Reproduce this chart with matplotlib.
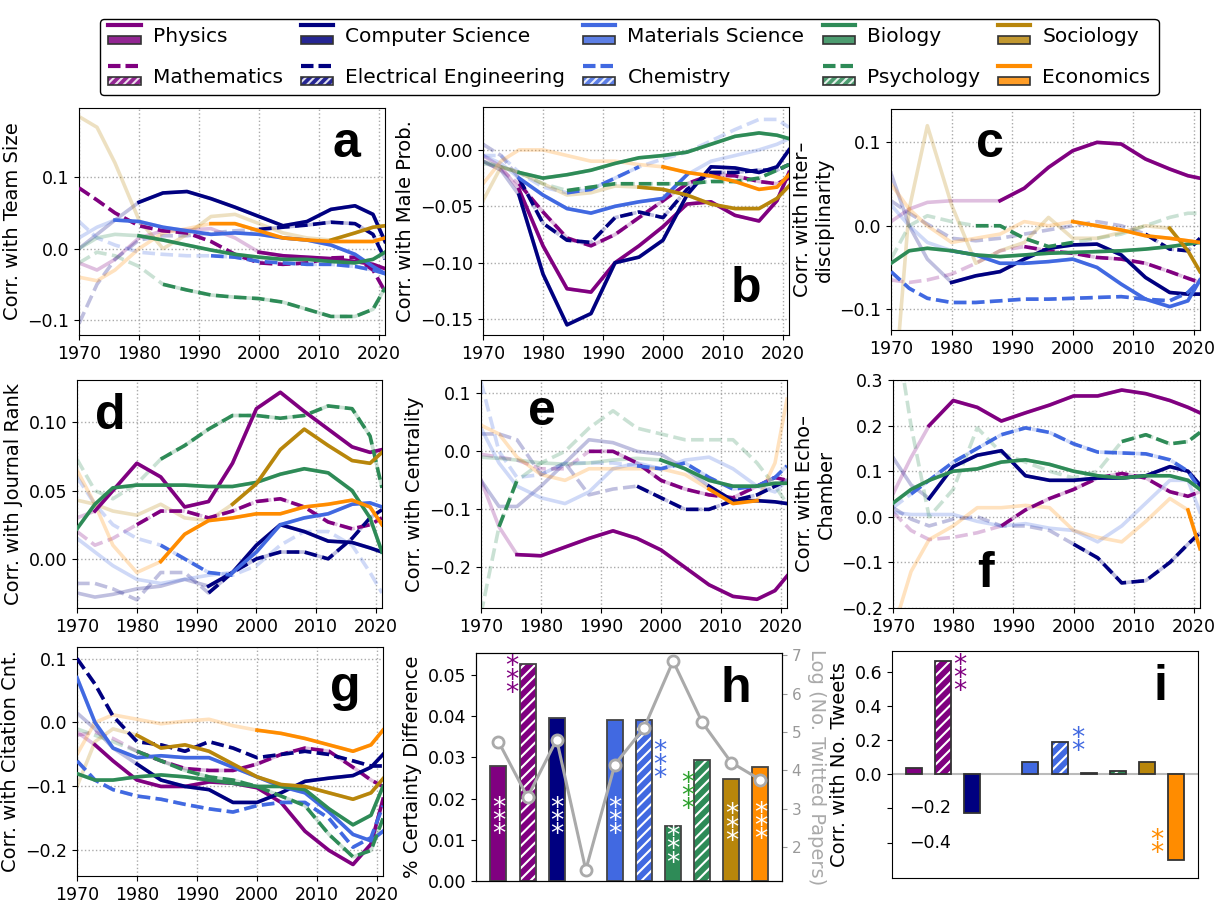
import numpy as np
import matplotlib
matplotlib.use("Agg")
import matplotlib.pyplot as plt
from matplotlib.lines import Line2D
from matplotlib.patches import Rectangle
from matplotlib.legend_handler import HandlerBase
from matplotlib.transforms import blended_transform_factory

plt.rcParams['font.family'] = ['DejaVu Sans']
plt.rcParams['hatch.linewidth'] = 1.5

fields = ['Physics', 'Mathematics', 'Computer Science', 'Electrical Engineering',
          'Materials Science', 'Chemistry', 'Biology', 'Psychology', 'Sociology', 'Economics']
colors = ['purple', 'purple', 'navy', 'navy', 'royalblue', 'royalblue',
          'seagreen', 'seagreen', 'darkgoldenrod', 'darkorange']
dashed = [False, True, False, True, False, True, False, True, False, False]

years = [1970, 1973, 1976, 1980, 1984, 1988, 1992, 1996, 2000, 2004, 2008, 2012, 2016, 2019, 2021]

# a: team size
team_size = [
    [-0.02, -0.03, -0.015, 0.015, 0.025, 0.026, 0.028, 0.015, -0.005, -0.01, -0.012, -0.014, -0.018, -0.022, -0.028],
    [0.085, 0.068, 0.05, 0.032, 0.025, 0.022, 0.01, -0.008, -0.02, -0.022, -0.02, -0.013, -0.012, -0.03, -0.06],
    [0.0, 0.02, 0.04, 0.065, 0.078, 0.08, 0.07, 0.058, 0.045, 0.032, 0.038, 0.055, 0.06, 0.048, 0.01],
    [-0.105, -0.05, -0.015, 0.012, 0.018, 0.018, 0.022, 0.025, 0.027, 0.03, 0.033, 0.037, 0.035, 0.02, -0.015],
    [0.015, 0.03, 0.04, 0.038, 0.03, 0.025, 0.02, 0.022, 0.02, 0.015, 0.012, 0.005, -0.008, -0.025, -0.035],
    [0.038, 0.015, 0.005, -0.005, -0.008, -0.01, -0.01, -0.012, -0.018, -0.02, -0.022, -0.022, -0.025, -0.03, -0.035],
    [0.0, 0.015, 0.02, 0.018, 0.012, 0.005, -0.002, -0.008, -0.012, -0.015, -0.015, -0.018, -0.02, -0.015, -0.005],
    [-0.02, -0.005, -0.01, -0.025, -0.05, -0.058, -0.065, -0.068, -0.07, -0.075, -0.085, -0.095, -0.095, -0.085, -0.055],
    [0.185, 0.17, 0.12, 0.04, 0.0, 0.02, 0.045, 0.048, 0.035, 0.022, 0.015, 0.012, 0.022, 0.03, 0.032],
    [-0.04, -0.045, -0.03, 0.0, 0.022, 0.028, 0.035, 0.035, 0.025, 0.015, 0.012, 0.01, 0.01, 0.01, 0.015],
]
team_size_solid = [(2000, 2021), (1970, 2021), (1980, 2021), (2000, 2021), (1976, 2021),
                   (1992, 2021), (1980, 2021), (1984, 2021), (2012, 2021), (1992, 2021)]

# b: male probability
male_prob = [
    [-0.005, -0.015, -0.035, -0.085, -0.123, -0.126, -0.1, -0.085, -0.068, -0.048, -0.046, -0.058, -0.063, -0.045, -0.02],
    [-0.01, -0.018, -0.03, -0.055, -0.078, -0.085, -0.075, -0.06, -0.045, -0.03, -0.022, -0.023, -0.028, -0.03, -0.025],
    [-0.01, -0.018, -0.04, -0.11, -0.155, -0.145, -0.1, -0.095, -0.08, -0.04, -0.015, -0.016, -0.02, -0.015, 0.0],
    [0.005, -0.005, -0.025, -0.065, -0.08, -0.082, -0.06, -0.055, -0.06, -0.035, -0.02, -0.02, -0.018, -0.018, -0.013],
    [-0.005, -0.012, -0.025, -0.04, -0.052, -0.056, -0.05, -0.046, -0.043, -0.022, -0.01, -0.005, 0.0, 0.005, 0.01],
    [-0.005, -0.005, -0.02, -0.033, -0.038, -0.035, -0.025, -0.015, -0.008, -0.002, 0.008, 0.018, 0.027, 0.027, 0.02],
    [-0.01, -0.015, -0.02, -0.025, -0.022, -0.018, -0.012, -0.007, -0.005, -0.002, 0.005, 0.012, 0.015, 0.013, 0.01],
    [-0.012, -0.015, -0.02, -0.03, -0.036, -0.033, -0.03, -0.03, -0.03, -0.03, -0.028, -0.028, -0.025, -0.018, -0.013],
    [-0.045, -0.015, -0.02, -0.03, -0.04, -0.038, -0.032, -0.033, -0.035, -0.04, -0.048, -0.052, -0.052, -0.043, -0.032],
    [-0.03, -0.01, 0.0, 0.0, -0.005, -0.01, -0.01, -0.013, -0.015, -0.02, -0.023, -0.028, -0.035, -0.033, -0.022],
]
male_prob_solid = [(1976, 2021), (1976, 2021), (1976, 2021), (1976, 2021), (1976, 2004),
                   (1984, 1996), (1976, 2021), (1984, 2021), (1996, 2021), (2000, 2021)]

# c: interdisciplinarity
interdisc = [
    [0.005, 0.02, 0.028, 0.03, 0.03, 0.03, 0.045, 0.07, 0.09, 0.1, 0.098, 0.08, 0.068, 0.06, 0.057],
    [-0.065, -0.068, -0.065, -0.058, -0.045, -0.03, -0.025, -0.03, -0.033, -0.038, -0.04, -0.045, -0.055, -0.063, -0.068],
    [0.063, 0.0, -0.04, -0.068, -0.06, -0.055, -0.04, -0.027, -0.023, -0.022, -0.035, -0.062, -0.08, -0.082, -0.082],
    [0.03, 0.015, 0.002, -0.015, -0.018, -0.015, -0.01, -0.005, 0.0, 0.005, 0.0, -0.01, -0.028, -0.03, -0.015],
    [0.025, 0.0, -0.02, -0.03, -0.035, -0.045, -0.045, -0.043, -0.04, -0.05, -0.07, -0.088, -0.097, -0.09, -0.065],
    [-0.055, -0.075, -0.087, -0.092, -0.092, -0.09, -0.088, -0.088, -0.087, -0.086, -0.085, -0.088, -0.09, -0.08, -0.065],
    [-0.045, -0.03, -0.027, -0.03, -0.035, -0.037, -0.035, -0.033, -0.032, -0.031, -0.03, -0.028, -0.025, -0.022, -0.02],
    [-0.04, 0.0, 0.012, 0.005, 0.0, 0.0, -0.015, -0.025, -0.02, -0.015, -0.01, 0.0, 0.01, 0.015, 0.015],
    [-0.25, 0.02, 0.12, 0.025, -0.045, -0.03, -0.02, 0.01, -0.015, -0.015, -0.008, 0.0, -0.003, -0.03, -0.055],
    [0.05, 0.02, 0.0, -0.02, -0.015, -0.01, 0.005, 0.0, 0.005, 0.0, -0.005, -0.012, -0.015, -0.018, -0.02],
]
interdisc_solid = [(1988, 2021), (1990, 2021), (1980, 2021), (2012, 2021), (1980, 2021),
                   (1970, 2021), (1970, 2021), (1984, 2000), (2016, 2021), (2000, 2021)]

# d: journal rank
journal_rank = [
    [0.03, 0.035, 0.05, 0.07, 0.06, 0.038, 0.042, 0.07, 0.11, 0.122, 0.108, 0.095, 0.082, 0.078, 0.08],
    [0.02, 0.01, 0.015, 0.025, 0.035, 0.035, 0.03, 0.035, 0.042, 0.044, 0.038, 0.027, 0.022, 0.025, 0.03],
    [-0.025, -0.028, -0.026, -0.022, -0.02, -0.015, -0.02, -0.01, 0.01, 0.025, 0.02, 0.013, 0.012, 0.008, 0.005],
    [-0.018, -0.018, -0.022, -0.03, -0.01, -0.01, -0.025, -0.01, 0.0, 0.005, 0.005, 0.0, 0.015, 0.03, 0.036],
    [0.015, 0.005, -0.005, -0.015, -0.018, -0.015, -0.012, -0.01, 0.005, 0.025, 0.03, 0.033, 0.04, 0.041, 0.038],
    [0.06, 0.04, 0.025, 0.015, 0.01, 0.0, -0.01, -0.012, -0.005, 0.01, 0.02, 0.02, 0.01, -0.01, -0.025],
    [0.022, 0.04, 0.052, 0.054, 0.054, 0.054, 0.053, 0.053, 0.056, 0.062, 0.066, 0.063, 0.05, 0.03, 0.005],
    [0.073, 0.05, 0.044, 0.055, 0.073, 0.083, 0.095, 0.105, 0.105, 0.103, 0.105, 0.112, 0.11, 0.09, 0.052],
    [0.043, 0.04, 0.035, 0.032, 0.04, 0.03, 0.028, 0.04, 0.055, 0.08, 0.095, 0.083, 0.072, 0.07, 0.078],
    [0.065, 0.04, 0.01, -0.01, -0.002, 0.018, 0.028, 0.03, 0.033, 0.033, 0.038, 0.04, 0.043, 0.038, 0.025],
]
journal_rank_solid = [(1973, 2021), (1980, 2021), (1992, 2021), (1992, 2021), (1996, 2021),
                      (1984, 1996), (1970, 2021), (1984, 2021), (1996, 2021), (1984, 2021)]

# e: centrality
centrality = [
    [-0.05, -0.13, -0.178, -0.18, -0.165, -0.15, -0.137, -0.15, -0.17, -0.2, -0.23, -0.25, -0.255, -0.24, -0.215],
    [-0.005, -0.01, -0.015, -0.03, -0.03, 0.0, 0.0, -0.02, -0.05, -0.065, -0.075, -0.08, -0.06, -0.045, -0.05],
    [-0.05, -0.095, -0.095, -0.06, -0.02, 0.02, 0.015, 0.0, -0.005, -0.03, -0.06, -0.085, -0.085, -0.087, -0.09],
    [0.03, 0.03, 0.02, -0.04, -0.02, -0.075, -0.065, -0.06, -0.08, -0.1, -0.1, -0.085, -0.075, -0.06, -0.05],
    [0.04, -0.02, -0.06, -0.08, -0.09, -0.07, -0.03, -0.02, -0.03, -0.015, -0.01, -0.03, -0.06, -0.07, -0.05],
    [0.12, 0.0, -0.045, -0.04, -0.02, -0.02, -0.02, -0.025, -0.03, -0.02, -0.045, -0.065, -0.06, -0.045, -0.025],
    [-0.01, -0.012, -0.015, -0.02, -0.022, -0.02, -0.015, -0.012, -0.015, -0.03, -0.05, -0.06, -0.06, -0.055, -0.055],
    [-0.28, -0.13, -0.05, -0.02, 0.0, 0.04, 0.07, 0.04, 0.03, 0.02, 0.02, 0.02, -0.02, -0.06, -0.09],
    None,
    [0.045, 0.03, -0.01, -0.04, -0.05, -0.03, -0.03, -0.03, -0.03, -0.04, -0.065, -0.09, -0.085, -0.02, 0.09],
]
centrality_solid = [(1976, 2021), (1988, 2021), (2008, 2021), (1996, 2021), (2030, 2030),
                    (1996, 2021), (2000, 2021), (1973, 1976), (2030, 2030), (2008, 2016)]

# f: echo chamber
echo_chamber = [
    [0.05, 0.13, 0.2, 0.255, 0.24, 0.21, 0.228, 0.245, 0.265, 0.265, 0.278, 0.27, 0.255, 0.24, 0.228],
    [0.01, -0.03, -0.05, -0.045, -0.035, -0.02, 0.015, 0.04, 0.06, 0.085, 0.095, 0.085, 0.055, 0.045, 0.055],
    [0.13, 0.07, 0.04, 0.11, 0.135, 0.145, 0.09, 0.08, 0.08, 0.085, 0.085, 0.09, 0.11, 0.1, 0.07],
    [0.02, -0.005, -0.02, -0.005, 0.0, -0.02, -0.02, -0.03, -0.06, -0.09, -0.145, -0.14, -0.1, -0.06, -0.035],
    [0.01, 0.005, 0.005, 0.005, -0.01, -0.02, -0.015, -0.025, -0.03, -0.055, -0.02, 0.03, 0.08, 0.08, 0.01],
    [0.02, 0.05, 0.08, 0.12, 0.15, 0.18, 0.195, 0.185, 0.16, 0.142, 0.14, 0.138, 0.125, 0.1, 0.06],
    [0.03, 0.06, 0.08, 0.1, 0.105, 0.12, 0.125, 0.115, 0.1, 0.09, 0.085, 0.09, 0.09, 0.08, 0.06],
    [0.45, 0.2, 0.0, 0.06, 0.195, 0.14, 0.12, 0.1, 0.085, 0.1, 0.165, 0.18, 0.16, 0.165, 0.185],
    None,
    [-0.25, -0.12, -0.05, -0.02, 0.02, 0.02, 0.025, 0.02, -0.03, -0.045, -0.055, -0.01, 0.04, 0.015, -0.07],
]
echo_chamber_solid = [(1976, 2021), (1988, 2021), (1976, 2021), (2000, 2021), (2030, 2030),
                      (1973, 2021), (1970, 2021), (2008, 2021), (2030, 2030), (2019, 2021)]

# g: citation count
citation_cnt = [
    [-0.015, -0.035, -0.06, -0.09, -0.1, -0.1, -0.093, -0.095, -0.102, -0.125, -0.17, -0.2, -0.222, -0.19, -0.12],
    [-0.02, -0.015, -0.025, -0.045, -0.06, -0.072, -0.075, -0.075, -0.065, -0.05, -0.04, -0.045, -0.07, -0.09, -0.1],
    [0.015, -0.01, -0.04, -0.065, -0.09, -0.1, -0.105, -0.125, -0.125, -0.11, -0.092, -0.087, -0.083, -0.07, -0.05],
    [0.1, 0.06, 0.01, -0.03, -0.035, -0.045, -0.03, -0.04, -0.055, -0.05, -0.045, -0.05, -0.06, -0.068, -0.068],
    [0.07, 0.0, -0.04, -0.055, -0.052, -0.055, -0.055, -0.07, -0.085, -0.1, -0.11, -0.14, -0.175, -0.185, -0.17],
    [-0.06, -0.09, -0.105, -0.115, -0.12, -0.128, -0.135, -0.14, -0.13, -0.125, -0.125, -0.15, -0.195, -0.18, -0.13],
    [-0.08, -0.09, -0.09, -0.085, -0.082, -0.085, -0.09, -0.095, -0.1, -0.1, -0.105, -0.135, -0.16, -0.145, -0.1],
    [-0.01, -0.02, -0.03, -0.045, -0.06, -0.075, -0.085, -0.09, -0.1, -0.115, -0.13, -0.175, -0.21, -0.2, -0.15],
    [-0.1, -0.03, -0.01, -0.02, -0.04, -0.035, -0.045, -0.065, -0.085, -0.097, -0.1, -0.11, -0.12, -0.11, -0.088],
    [-0.05, 0.0, 0.012, 0.005, -0.002, 0.002, 0.005, -0.005, -0.012, -0.017, -0.025, -0.035, -0.045, -0.035, -0.012],
]
citation_cnt_solid = [(1973, 2021), (1980, 2021), (1980, 2021), (1970, 2021), (1970, 2021),
                      (1970, 2021), (1970, 2021), (1980, 2021), (1980, 2021), (2000, 2021)]

# h: certainty difference (bars) and log number of twitted papers (line)
certainty_diff = [0.028, 0.0527, 0.0396, 0.0, 0.0391, 0.0391, 0.0134, 0.0293, 0.0247, 0.0277]
log_twitted = [4.75, 3.3, 4.8, 1.4, 4.15, 5.1, 6.85, 5.25, 4.2, 3.75]

# i: correlation with number of tweets
corr_tweets = [0.035, 0.665, -0.225, 0.0, 0.07, 0.19, 0.01, 0.02, 0.075, -0.5]


class LineOverPatch(HandlerBase):
    def create_artists(self, legend, orig_handle, xdescent, ydescent,
                       width, height, fontsize, trans):
        color, ls, hatch = orig_handle
        x0 = -xdescent
        line = Line2D([x0, x0 + width], [height * 1.2] * 2, color=color, ls=ls,
                      lw=3, dashes=(3, 1.2) if ls == '--' else (None, None), transform=trans)
        face = Rectangle((x0, -ydescent - height * 0.15), width, height * 0.6,
                         facecolor=color, alpha=0.85,
                         edgecolor='white' if hatch else color,
                         hatch='////' if hatch else None, lw=0, transform=trans)
        edge = Rectangle((x0, -ydescent - height * 0.15), width, height * 0.6,
                         fill=False, edgecolor='#333333', lw=1.2, transform=trans)
        return [line, face, edge]


fig = plt.figure(figsize=(12.15, 9.02), dpi=100)

def px_axes(left, top, right, bottom):
    W, H = 1215, 902
    return fig.add_axes([left / W, 1 - bottom / H, (right - left) / W, (bottom - top) / H])


def draw_panel(ax, data, solid, ylim, yticks, ylabel, letter, lpos):
    x = np.array(years)
    for i, vals in enumerate(data):
        if vals is None:
            continue
        y = np.array(vals, dtype=float)
        kw = dict(color=colors[i], lw=2.6)
        if dashed[i]:
            kw['dashes'] = (3.5, 1.5)
        ax.plot(x, y, alpha=0.25, zorder=2, **kw)
        a, b = solid[i]
        m = (x >= a) & (x <= b)
        if m.sum() > 1:
            ax.plot(x[m], y[m], zorder=3, **kw)
    ax.set_xlim(1970, 2021)
    ax.set_ylim(*ylim)
    ax.set_xticks([1970, 1980, 1990, 2000, 2010, 2020])
    ax.set_yticks(yticks)
    ax.grid(True, ls=':', color='#aaaaaa', lw=1)
    ax.tick_params(labelsize=12.5)
    ax.set_ylabel(ylabel, fontsize=14)
    ax.text(lpos[0], lpos[1], letter, transform=ax.transAxes, fontsize=36,
            fontweight='bold', family='Liberation Sans', ha='center', va='center')


ax_a = px_axes(79, 108, 385, 335)
draw_panel(ax_a, team_size, team_size_solid, (-0.121, 0.197), [-0.1, 0.0, 0.1],
           'Corr. with Team Size', 'a', (0.875, 0.84))

ax_b = px_axes(483, 107, 789, 335)
draw_panel(ax_b, male_prob, male_prob_solid, (-0.164, 0.038), [-0.15, -0.10, -0.05, 0.00],
           'Corr. with Male Prob.', 'b', (0.86, 0.2))
ax_b.set_yticklabels(['\u22120.15', '\u22120.10', '\u22120.05', '0.00'])

ax_c = px_axes(891, 109, 1200, 330)
draw_panel(ax_c, interdisc, interdisc_solid, (-0.125, 0.14), [-0.1, 0.0, 0.1],
           'Corr. with Inter\u2013\ndisciplinarity', 'c', (0.32, 0.84))

ax_d = px_axes(77, 380, 382, 608)
draw_panel(ax_d, journal_rank, journal_rank_solid, (-0.036, 0.131), [0.0, 0.05, 0.10],
           'Corr. with Journal Rank', 'd', (0.11, 0.84))
ax_d.set_yticklabels(['0.00', '0.05', '0.10'])

ax_e = px_axes(481, 380, 787, 608)
draw_panel(ax_e, centrality, centrality_solid, (-0.27, 0.123), [-0.2, -0.1, 0.0, 0.1],
           'Corr. with Centrality', 'e', (0.2, 0.86))

ax_f = px_axes(893, 380, 1200, 608)
draw_panel(ax_f, echo_chamber, echo_chamber_solid, (-0.2, 0.3), [-0.2, -0.1, 0.0, 0.1, 0.2, 0.3],
           'Corr. with Echo\u2013\nChamber', 'f', (0.3, 0.15))

ax_g = px_axes(77, 647, 383, 876)
draw_panel(ax_g, citation_cnt, citation_cnt_solid, (-0.24, 0.118), [-0.2, -0.1, 0.0, 0.1],
           'Corr. with Citation Cnt.', 'g', (0.875, 0.82))

# panel h
ax_h = px_axes(476, 653, 782, 881)
xs = np.arange(len(fields))
for i, v in enumerate(certainty_diff):
    if v == 0:
        continue
    hatch = dashed[i]
    ax_h.bar(xs[i], v, width=0.55, color=colors[i],
             edgecolor='white' if hatch else colors[i], hatch='///' if hatch else None, lw=0, zorder=2)
    ax_h.bar(xs[i], v, width=0.55, fill=False, edgecolor='#444444', lw=1.3, zorder=3)
ax_h.set_xlim(-0.77, 9.74)
ax_h.set_ylim(0, 0.0553)
ax_h.set_xticks([])
ax_h.set_yticks([0.0, 0.01, 0.02, 0.03, 0.04, 0.05])
ax_h.set_yticklabels(['0.00', '0.01', '0.02', '0.03', '0.04', '0.05'])
ax_h.tick_params(labelsize=12.5)
ax_h.set_ylabel('% Certainty Difference', fontsize=14)
ax_h.text(0.85, 0.84, 'h', transform=ax_h.transAxes, fontsize=36, fontweight='bold',
          family='Liberation Sans', ha='center', va='center')

star_kw = dict(ha='center', va='center', fontsize=19, linespacing=0.36, zorder=5)
for xi, yi in [(0, 0.0143), (2, 0.0143), (4, 0.0143), (6, 0.0074), (8, 0.0127), (9, 0.0131)]:
    ax_h.text(xi, yi, '*\n*\n*', color='white', **star_kw)
ax_h.text(0.46, 0.0486, '*\n*\n*', color='purple', **star_kw)
ax_h.text(5.53, 0.028, '*\n*\n*', color='royalblue', **star_kw)
ax_h.text(6.49, 0.0204, '*\n*\n*', color='tab:green', **star_kw)

ax_h2 = ax_h.twinx()
ax_h2.plot(xs, log_twitted, color='#aaaaaa', lw=2.2, marker='o', ms=8,
           mfc='white', mec='#aaaaaa', mew=2, zorder=4)
ax_h2.set_ylim(1.11, 7.06)
ax_h2.set_yticks([2, 3, 4, 5, 6, 7])
ax_h2.tick_params(colors='#999999', labelsize=11)
ax_h2.set_ylabel('Log (No. Twitted Papers)', color='#aaaaaa', fontsize=14, rotation=270, labelpad=18)

# panel i
ax_i = px_axes(892, 651, 1198, 878)
for i, v in enumerate(corr_tweets):
    if v == 0:
        continue
    hatch = dashed[i]
    ax_i.bar(xs[i], v, width=0.55, color=colors[i],
             edgecolor='white' if hatch else colors[i], hatch='///' if hatch else None, lw=0, zorder=2)
    ax_i.bar(xs[i], v, width=0.55, fill=False, edgecolor='#333333', lw=1.3, zorder=3)
ax_i.axhline(0, color='#bbbbbb', lw=1.5, zorder=1)
ax_i.set_xlim(-0.75, 9.75)
ax_i.set_ylim(-0.608, 0.723)
ax_i.set_xticks([])
ax_i.set_yticks([-0.4, -0.2, 0.0, 0.2, 0.4, 0.6])
ax_i.set_yticklabels(['', '', '0.0', '0.2', '0.4', '0.6'])
ax_i.tick_params(labelsize=12.5)
tr = blended_transform_factory(ax_i.transAxes, ax_i.transData)
for v, lab in [(-0.2, '\u22120.2'), (-0.4, '\u22120.4')]:
    ax_i.text(0.055, v, lab, transform=tr, fontsize=12.5, va='center', ha='left')
ax_i.set_ylabel('Corr. with No. Tweets', fontsize=14)
ax_i.text(0.876, 0.84, 'i', transform=ax_i.transAxes, fontsize=36, fontweight='bold',
          family='Liberation Sans', ha='center', va='center')
ax_i.text(1.57, 0.56, '*\n*\n*', color='purple', **star_kw)
ax_i.text(5.62, 0.17, '*\n*', color='royalblue', **star_kw)
ax_i.text(8.35, -0.43, '*\n*', color='darkorange', **star_kw)

# legend
handles = [(colors[i], '--' if dashed[i] else '-', dashed[i]) for i in range(len(fields))]
fig.legend(handles, fields, handler_map={tuple: LineOverPatch()}, ncol=5,
           loc='upper center', bbox_to_anchor=(0.518, 0.99), fontsize=14.5,
           handlelength=1.6, handletextpad=0.6, columnspacing=0.9, labelspacing=1.1,
           frameon=True, edgecolor='black', fancybox=True, framealpha=1)

fig.savefig('out.png', dpi=100)
